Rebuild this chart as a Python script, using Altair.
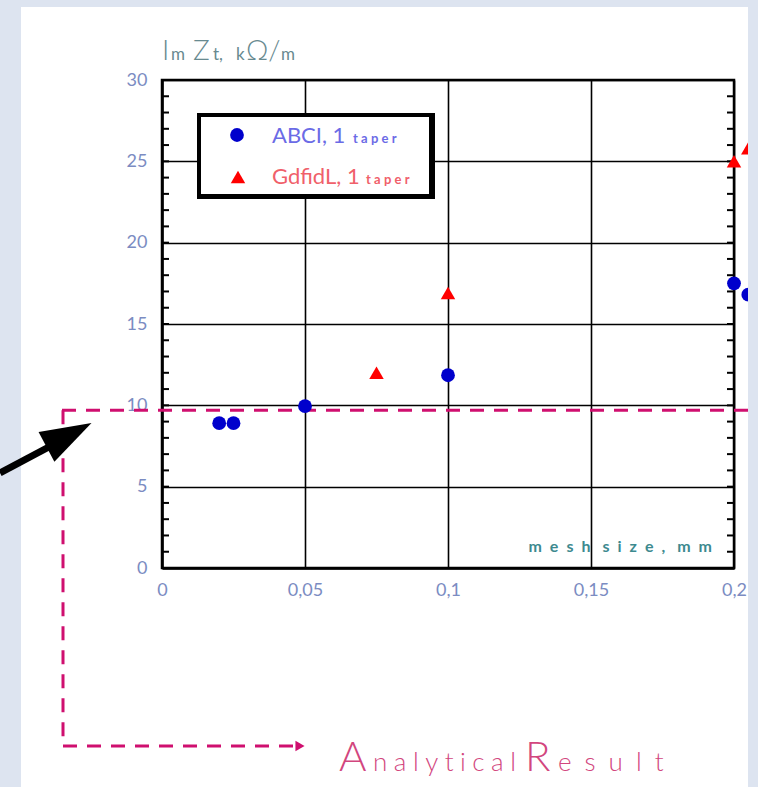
import altair as alt
import pandas as pd

# Im Zt (kOhm/m) against mesh size (mm)
abci_mesh = [0.02, 0.025, 0.05, 0.1, 0.2, 0.205]
abci_imz = [8.9, 8.9, 9.95, 11.85, 17.5, 16.8]
gdfidl_mesh = [0.075, 0.1, 0.2, 0.205]
gdfidl_imz = [12.0, 16.9, 25.0, 25.8]
analytical_imz = 9.7

x_ticks = [0, 0.05, 0.1, 0.15, 0.2]
y_ticks = [0, 5, 10, 15, 20, 25, 30]
y_minor = list(range(0, 31))

# page geometry
W, H = 758, 787
LEFT, TOP = 162, 80
PW, PH = 572, 488

BLUE = "#0000cc"
RED = "#ff0000"
MAG = "#cf0f6f"
PINK = "#d2467e"
LABEL_C = "#7b8cc2"
TITLE_C = "#688a90"
BG = "#dde4f0"
FONT = "Lato"

one = pd.DataFrame({"k": [0]})


def rect(x0, y0, x1, y1, color):
    return alt.Chart(one).mark_rect(color=color).encode(
        x=alt.value(x0 - LEFT), x2=alt.value(x1 - LEFT),
        y=alt.value(y0 - TOP), y2=alt.value(y1 - TOP))


def text(s, x, y, size, color, weight=400, align="left"):
    return alt.Chart(one).mark_text(
        text=s, align=align, baseline="alphabetic", fontSize=size,
        color=color, fontWeight=weight, font=FONT).encode(
        x=alt.value(x - LEFT), y=alt.value(y - TOP))


xscale = alt.Scale(domain=[0, 0.2], nice=False, zero=False)
yscale = alt.Scale(domain=[0, 30], nice=False)
x_axis = alt.Axis(values=x_ticks, title=None, grid=True, ticks=False,
                  labelPadding=13, labelFlush=False,
                  labelExpr="replace(format(datum.value, '~g'), '.', ',')")
y_axis = alt.Axis(values=y_ticks, title=None, grid=True, ticks=False,
                  labelPadding=15, labelFlush=False)

abci = pd.DataFrame({"mesh": abci_mesh, "imz": abci_imz})
gdfidl = pd.DataFrame({"mesh": gdfidl_mesh, "imz": gdfidl_imz})
minor = pd.DataFrame({"imz": y_minor})
analytic = pd.DataFrame({"imz": [analytical_imz]})

Y = alt.Y("imz:Q", scale=yscale, axis=y_axis)
X = alt.X("mesh:Q", scale=xscale, axis=x_axis)

# minor ticks on both vertical frame edges, pointing inward
minor_left = alt.Chart(minor).mark_rule(color="black", strokeWidth=2).encode(
    y=Y, x=alt.value(0), x2=alt.value(7))
minor_right = alt.Chart(minor).mark_rule(color="black", strokeWidth=2).encode(
    y=Y, x=alt.value(PW - 7), x2=alt.value(PW))

# analytical result: dashed level line, running down and across to its label
dash = dict(color=MAG, strokeWidth=3, strokeDash=[14, 10], strokeCap="butt")
an_h = alt.Chart(analytic).mark_rule(**dash).encode(
    y=Y, x=alt.value(62 - LEFT), x2=alt.value(748 - LEFT))
an_v = alt.Chart(analytic).mark_rule(**dash).encode(
    y=Y, y2=alt.value(746 - TOP), x=alt.value(63 - LEFT))
an_b = alt.Chart(one).mark_rule(**dash).encode(
    y=alt.value(746 - TOP), x=alt.value(63 - LEFT), x2=alt.value(294 - LEFT))
an_head = alt.Chart(one).mark_point(
    shape="triangle-right", filled=True, size=110, color=MAG, opacity=1).encode(
    x=alt.value(300 - LEFT), y=alt.value(746 - TOP))

# legend box
leg_border = rect(197, 113, 435, 199, "black")
leg_fill = rect(201, 117, 429, 194, "white")
leg_c = alt.Chart(one).mark_point(shape="circle", filled=True, size=190,
                                  color=BLUE, opacity=1).encode(
    x=alt.value(237 - LEFT), y=alt.value(135 - TOP))
leg_t = alt.Chart(one).mark_point(shape="triangle-up", filled=True, size=210,
                                  color=RED, opacity=1).encode(
    x=alt.value(238 - LEFT), y=alt.value(177 - TOP))
leg_txt = [
    text("ABCI, 1", 272, 143, 22, "#6b6be6"),
    text("t\u2005a\u2005p\u2005e\u2005r", 353, 143, 13, "#6b6be6", 700),
    text("GdfidL, 1", 272, 184, 22, "#f0606a"),
    text("t\u2005a\u2005p\u2005e\u2005r", 366, 184, 13, "#f0606a", 700),
]

pts_abci = alt.Chart(abci).mark_point(shape="circle", filled=True, size=190,
                                      color=BLUE, opacity=1).encode(x=X, y=Y)
pts_gdfidl = alt.Chart(gdfidl).mark_point(shape="triangle-up", filled=True,
                                          size=210, color=RED,
                                          opacity=1).encode(x=X, y=Y)

# axis title with subscripts
title_parts = [
    text("I", 162, 60, 28, TITLE_C, 300),
    text("m", 171, 60, 17, TITLE_C),
    text("Z", 193, 60, 28, TITLE_C, 300),
    text("t,", 213, 60, 17, TITLE_C),
    text("k", 236, 60, 17, TITLE_C),
    text("\u03a9/", 246, 60, 28, TITLE_C, 300),
    text("m", 281, 60, 17, TITLE_C),
]
xlabel = text("m\u2002e\u2002s\u2002h\u2003s\u2002i\u2002z\u2002e\u2002,\u2003m\u2002m",
              712, 552, 16, "#3d8a8f", 700, "right")

an_label = [
    text("A", 339, 771, 42, PINK, 300),
    text("n\u2005a\u2005l\u2005y\u2005t\u2005i\u2005c\u2005a\u2005l", 373, 771, 26, PINK, 300),
    text("R", 525, 771, 42, PINK, 300),
    text("e\u2002s\u2002u\u2002l\u2002t", 558, 771, 26, PINK, 300),
]

# surrounding page border
strips = [
    rect(0, 0, W, 7, BG),
    rect(0, 0, 21, H, BG),
    rect(748, 0, W, H, BG),
]

# pointer arrow
arrow_line = alt.Chart(one).mark_rule(color="black", strokeWidth=7,
                                      strokeCap="butt").encode(
    x=alt.value(0 - LEFT), y=alt.value(473 - TOP),
    x2=alt.value(62 - LEFT), y2=alt.value(440 - TOP))
arrow_head = alt.Chart(one).mark_point(
    shape="M0,-1L0.66,1L-0.66,1Z", filled=True, size=2600, color="black",
    opacity=1, angle=62, strokeWidth=0).encode(
    x=alt.value(69 - LEFT), y=alt.value(435 - TOP))

layers = ([minor_left, minor_right, an_h, an_v, an_b, an_head,
           leg_border, leg_fill, leg_c, leg_t] + leg_txt +
          [pts_abci, pts_gdfidl] + title_parts + [xlabel] + an_label +
          strips + [arrow_line, arrow_head])

chart = alt.layer(*layers).properties(
    width=PW, height=PH,
    padding={"left": LEFT, "top": TOP, "right": W - LEFT - PW,
             "bottom": H - TOP - PH},
    autosize=alt.AutoSizeParams(type="none"),
    background="white",
).configure_view(
    stroke="black", strokeWidth=2.5,
).configure_axis(
    gridColor="black", gridWidth=1.6, gridOpacity=1,
    domainColor="black", domainWidth=2.5,
    labelFont=FONT, labelFontSize=18, labelColor=LABEL_C,
)

chart.save("out.html", embed_options={"renderer": "svg", "actions": False})
